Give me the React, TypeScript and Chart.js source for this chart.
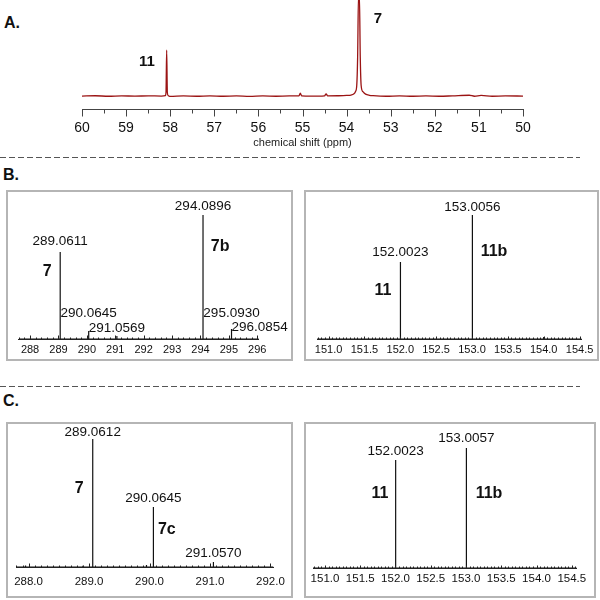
import React, { useEffect, useRef } from "react";
import { Chart, registerables } from "chart.js";

Chart.register(...registerables);

const FONT = "'Liberation Sans', Arial, Helvetica, sans-serif";

// ---------------- Panel A: NMR spectrum ----------------
const A_SHIFT = [
  50.0, 50.4, 50.7, 50.95, 51.1, 51.22, 51.6, 51.9, 52.2, 52.5, 52.8, 53.1, 53.4, 53.48,
  53.57, 53.63, 53.67, 53.69, 53.71, 53.73, 53.75, 53.77, 53.8, 53.84, 53.9, 54.0, 54.2,
  54.43, 54.465, 54.5, 54.8, 55.02, 55.05, 55.08, 55.3, 55.6, 55.9, 56.2, 56.5, 56.8,
  57.1, 57.4, 57.7, 58.0, 58.045, 58.065, 58.08, 58.095, 58.11, 58.2, 58.5, 58.8, 59.1,
  59.4, 59.7, 60.0,
];
const A_INTENSITY = [
  0.0, 0.001, -0.002, 0.006, -0.002, 0.008, 0.002, -0.002, 0.001, -0.002, 0.002, -0.002, 0.004, 0.008,
  0.02, 0.045, 0.11, 0.4, 1.05, 1.05, 0.4, 0.11, 0.045, 0.02, 0.01, 0.006, 0.003,
  0.002, 0.022, 0.002, -0.001, 0.002, 0.03, 0.002, 0.001, -0.002, 0.001, -0.003, 0.001, -0.002,
  0.002, -0.002, 0.001, -0.004, 0.004, 0.04, 0.479, 0.04, 0.004, 0.0, 0.002, -0.001, 0.002,
  -0.002, 0.003, 0.0,
];
const A_TICKS = [60, 59, 58, 57, 56, 55, 54, 53, 52, 51, 50];
const A_COMPOUNDS = ["11", "7"];
const A_COMPOUND_SHIFT = [58.53, 53.29];
const A_COMPOUND_Y = [0.354, 0.802];

// ---------------- Panel B, left ----------------
const B1_MZ = [289.0611, 290.0645, 291.0569, 294.0896, 295.093, 296.0854];
const B1_INT = [70.2, 6.5, 2.4, 100, 8.1, 2.8];
const B1_LABELS = ["289.0611", "290.0645", "291.0569", "294.0896", "295.0930", "296.0854"];
const B1_TICKS = [288, 289, 290, 291, 292, 293, 294, 295, 296];
const B1_COMPOUNDS = ["7", "7b"];
const B1_COMPOUND_MZ = [288.6, 294.69];
const B1_COMPOUND_INT = [54.0, 74.2];

// ---------------- Panel B, right ----------------
const B2_MZ = [152.0023, 153.0056, 154.0];
const B2_INT = [62.1, 100, 1.6];
const B2_LABELS = ["152.0023", "153.0056", ""];
const B2_TICKS = [151.0, 151.5, 152.0, 152.5, 153.0, 153.5, 154.0, 154.5];
const B2_COMPOUNDS = ["11", "11b"];
const B2_COMPOUND_MZ = [151.759, 153.307];
const B2_COMPOUND_INT = [38.7, 70.2];

// ---------------- Panel C, left ----------------
const C1_MZ = [287.95, 288.9, 289.0612, 289.95, 290.0645, 291.057];
const C1_INT = [1.2, 1.0, 100, 1.5, 46.9, 3.9];
const C1_LABELS = ["", "", "289.0612", "", "290.0645", "291.0570"];
const C1_TICKS = [288.0, 289.0, 290.0, 291.0, 292.0];
const C1_COMPOUNDS = ["7", "7c"];
const C1_COMPOUND_MZ = [288.837, 290.286];
const C1_COMPOUND_INT = [60.96, 28.9];

// ---------------- Panel C, right ----------------
const C2_MZ = [152.0023, 153.0057];
const C2_INT = [90, 100];
const C2_LABELS = ["152.0023", "153.0057"];
const C2_TICKS = [151.0, 151.5, 152.0, 152.5, 153.0, 153.5, 154.0, 154.5];
const C2_COMPOUNDS = ["11", "11b"];
const C2_COMPOUND_MZ = [151.78, 153.326];
const C2_COMPOUND_INT = [61.65, 61.65];

// ---------------- layout / style ----------------
type Pad = { left: number; right: number; top: number; bottom: number };
interface Spec {
  left: number; top: number; width: number; height: number;
  pad: Pad; axisHeight: number;
  xMin: number; xMax: number; yMin: number; yMax: number; reverse: boolean;
  ticks: number[]; tickDecimals: number; tickFontSize: number; tickPadding: number;
  minorStep: number; majorStep: number; majorLen: number; minorLen: number; tickDir: number;
  axisColor: string; title?: string; titleSize?: number;
  points: { x: number; y: number }[]; lineColor: string; lineWidth: number; smooth: boolean;
  peakLabels: { text: string; x: number; y: number; dy: number }[]; peakFontSize: number;
  compounds: { text: string; x: number; y: number }[]; compoundFontSize: number;
}

function stickSeries(mz: number[], inten: number[], lo: number, hi: number) {
  const pts = [{ x: lo, y: 0 }];
  mz.forEach((m, i) => {
    pts.push({ x: m, y: 0 }, { x: m, y: inten[i] }, { x: m, y: 0 });
  });
  pts.push({ x: hi, y: 0 });
  return pts;
}
function peakLabels(labels: string[], mz: number[], inten: number[], dys: number[]) {
  const out: { text: string; x: number; y: number; dy: number }[] = [];
  let k = 0;
  labels.forEach((t, i) => {
    if (t) { out.push({ text: t, x: mz[i], y: inten[i], dy: dys[k] }); k++; }
  });
  return out;
}
function compounds(texts: string[], xs: number[], ys: number[]) {
  return texts.map((t, i) => ({ text: t, x: xs[i], y: ys[i] }));
}

const SPEC_A: Spec = {
  left: 0, top: 0, width: 600, height: 160,
  pad: { left: 82, right: 77, top: 0, bottom: 6 }, axisHeight: 45,
  xMin: 50, xMax: 60, yMin: -0.135, yMax: 1, reverse: true,
  ticks: A_TICKS, tickDecimals: 0, tickFontSize: 14, tickPadding: 10.5,
  minorStep: 0.5, majorStep: 1, majorLen: 7, minorLen: 4, tickDir: 1,
  axisColor: "#444", title: "chemical shift (ppm)", titleSize: 11,
  points: A_SHIFT.map((x, i) => ({ x, y: A_INTENSITY[i] })),
  lineColor: "#9b1414", lineWidth: 1.3, smooth: true,
  peakLabels: [], peakFontSize: 13.5,
  compounds: compounds(A_COMPOUNDS, A_COMPOUND_SHIFT, A_COMPOUND_Y), compoundFontSize: 15,
};

const SPEC_B1: Spec = {
  left: 6, top: 190, width: 287, height: 170,
  pad: { left: 12.7, right: 34.3, top: 10, bottom: 1 }, axisHeight: 20,
  xMin: 287.6, xMax: 296.05, yMin: 0, yMax: 112.1, reverse: false,
  ticks: B1_TICKS, tickDecimals: 0, tickFontSize: 11, tickPadding: 4,
  minorStep: 0.2, majorStep: 1, majorLen: 4, minorLen: 2, tickDir: -1,
  axisColor: "#222",
  points: stickSeries(B1_MZ, B1_INT, 287.6, 296.05), lineColor: "#111", lineWidth: 1.2, smooth: false,
  peakLabels: peakLabels(B1_LABELS, B1_MZ, B1_INT, [-11, -18, -8, -9, -16, -8.5]), peakFontSize: 13.5,
  compounds: compounds(B1_COMPOUNDS, B1_COMPOUND_MZ, B1_COMPOUND_INT), compoundFontSize: 16,
};

const SPEC_B2: Spec = {
  left: 304, top: 190, width: 295, height: 170,
  pad: { left: 13.1, right: 17.3, top: 10, bottom: 1 }, axisHeight: 20,
  xMin: 150.84, xMax: 154.53, yMin: 0, yMax: 112.1, reverse: false,
  ticks: B2_TICKS, tickDecimals: 1, tickFontSize: 11, tickPadding: 4,
  minorStep: 0.05, majorStep: 0.5, majorLen: 3, minorLen: 2, tickDir: -1,
  axisColor: "#222",
  points: stickSeries(B2_MZ, B2_INT, 150.84, 154.53), lineColor: "#111", lineWidth: 1.2, smooth: false,
  peakLabels: peakLabels(B2_LABELS, B2_MZ, B2_INT, [-10, -8]), peakFontSize: 13.5,
  compounds: compounds(B2_COMPOUNDS, B2_COMPOUND_MZ, B2_COMPOUND_INT), compoundFontSize: 16,
};

const SPEC_C1: Spec = {
  left: 6, top: 422, width: 287, height: 176,
  pad: { left: 3.6, right: 19.5, top: 10, bottom: 7 }, axisHeight: 24,
  xMin: 287.8, xMax: 292.05, yMin: 0, yMax: 105.5, reverse: false,
  ticks: C1_TICKS, tickDecimals: 1, tickFontSize: 11.5, tickPadding: 8,
  minorStep: 0.1, majorStep: 1, majorLen: 4, minorLen: 2, tickDir: -1,
  axisColor: "#222",
  points: stickSeries(C1_MZ, C1_INT, 287.8, 292.05), lineColor: "#111", lineWidth: 1.2, smooth: false,
  peakLabels: peakLabels(C1_LABELS, C1_MZ, C1_INT, [-7, -9, -9]), peakFontSize: 13.5,
  compounds: compounds(C1_COMPOUNDS, C1_COMPOUND_MZ, C1_COMPOUND_INT), compoundFontSize: 16,
};

const SPEC_C2: Spec = {
  left: 304, top: 422, width: 292, height: 176,
  pad: { left: 9, right: 19.3, top: 10, bottom: 6 }, axisHeight: 24,
  xMin: 150.83, xMax: 154.57, yMin: 0, yMax: 113.3, reverse: false,
  ticks: C2_TICKS, tickDecimals: 1, tickFontSize: 11.5, tickPadding: 4,
  minorStep: 0.05, majorStep: 0.5, majorLen: 3, minorLen: 2, tickDir: -1,
  axisColor: "#222",
  points: stickSeries(C2_MZ, C2_INT, 150.83, 154.57), lineColor: "#111", lineWidth: 1.2, smooth: false,
  peakLabels: peakLabels(C2_LABELS, C2_MZ, C2_INT, [-9, -10]), peakFontSize: 13.5,
  compounds: compounds(C2_COMPOUNDS, C2_COMPOUND_MZ, C2_COMPOUND_INT), compoundFontSize: 16,
};

function buildConfig(spec: Spec): any {
  const tickPlugin = {
    id: "tickMarks",
    afterDraw(chart: any) {
      const sc = chart.scales.x;
      const ctx = chart.ctx;
      const y0 = Math.round(chart.chartArea.bottom) + 0.5;
      const lo = Math.min(spec.xMin, spec.xMax);
      const hi = Math.max(spec.xMin, spec.xMax);
      const n0 = Math.ceil(lo / spec.minorStep - 1e-6);
      const n1 = Math.floor(hi / spec.minorStep + 1e-6);
      ctx.save();
      ctx.strokeStyle = spec.axisColor;
      ctx.lineWidth = 1;
      ctx.beginPath();
      for (let n = n0; n <= n1; n++) {
        const v = n * spec.minorStep;
        const r = v / spec.majorStep;
        const major = Math.abs(r - Math.round(r)) < 1e-6;
        const len = major ? spec.majorLen : spec.minorLen;
        const px = Math.round(sc.getPixelForValue(v)) + 0.5;
        ctx.moveTo(px, y0);
        ctx.lineTo(px, y0 + spec.tickDir * len);
      }
      ctx.stroke();
      ctx.restore();
    },
  };
  const labelPlugin = {
    id: "peakText",
    afterDatasetsDraw(chart: any) {
      const xs = chart.scales.x;
      const ys = chart.scales.y;
      const ctx = chart.ctx;
      ctx.save();
      ctx.fillStyle = "#111";
      ctx.textAlign = "center";
      ctx.textBaseline = "middle";
      ctx.font = `${spec.peakFontSize}px ${FONT}`;
      spec.peakLabels.forEach((l) => {
        ctx.fillText(l.text, xs.getPixelForValue(l.x), ys.getPixelForValue(l.y) + l.dy);
      });
      ctx.font = `bold ${spec.compoundFontSize}px ${FONT}`;
      spec.compounds.forEach((c) => {
        ctx.fillText(c.text, xs.getPixelForValue(c.x), ys.getPixelForValue(c.y));
      });
      ctx.restore();
    },
  };
  return {
    type: "line",
    data: {
      datasets: [
        {
          data: spec.points,
          borderColor: spec.lineColor,
          borderWidth: spec.lineWidth,
          pointRadius: 0,
          tension: 0,
          cubicInterpolationMode: spec.smooth ? "monotone" : "default",
          fill: false,
        },
      ],
    },
    options: {
      responsive: false,
      animation: false,
      devicePixelRatio: 1,
      events: [],
      layout: { padding: spec.pad, autoPadding: false },
      plugins: { legend: { display: false }, tooltip: { enabled: false }, title: { display: false } },
      scales: {
        x: {
          type: "linear",
          position: "bottom",
          min: spec.xMin,
          max: spec.xMax,
          reverse: spec.reverse,
          grid: { display: false, drawTicks: false },
          border: { display: true, color: spec.axisColor, width: 1 },
          ticks: {
            autoSkip: false,
            maxRotation: 0,
            minRotation: 0,
            padding: spec.tickPadding,
            color: "#111",
            font: { family: FONT, size: spec.tickFontSize },
            callback: (v: any) => Number(v).toFixed(spec.tickDecimals),
          },
          afterBuildTicks: (s: any) => {
            s.ticks = spec.ticks.map((v) => ({ value: v }));
          },
          afterFit: (s: any) => {
            s.height = spec.axisHeight;
          },
          title: spec.title
            ? {
                display: true,
                text: spec.title,
                color: "#222",
                font: { family: FONT, size: spec.titleSize },
                padding: { top: 0, bottom: 4 },
              }
            : { display: false },
        },
        y: { type: "linear", display: false, min: spec.yMin, max: spec.yMax },
      },
    },
    plugins: [tickPlugin, labelPlugin],
  };
}

function SpecChart({ spec }: { spec: Spec }) {
  const ref = useRef<HTMLCanvasElement>(null);
  useEffect(() => {
    const canvas = ref.current;
    if (!canvas) return;
    const chart = new Chart(canvas, buildConfig(spec));
    return () => chart.destroy();
  }, [spec]);
  return (
    <canvas
      ref={ref}
      width={spec.width}
      height={spec.height}
      style={{ position: "absolute", left: spec.left, top: spec.top, width: spec.width, height: spec.height }}
    />
  );
}

const letterStyle = (left: number, top: number): React.CSSProperties => ({
  position: "absolute",
  left,
  top,
  fontFamily: FONT,
  fontWeight: "bold",
  fontSize: 16,
  lineHeight: "16px",
  color: "#111",
});

const boxStyle = (left: number, top: number, width: number, height: number): React.CSSProperties => ({
  position: "absolute",
  left,
  top,
  width,
  height,
  boxSizing: "border-box",
  border: "2px solid #b5b5b5",
});

export default function App() {
  return (
    <div
      style={{
        position: "fixed",
        left: 0,
        top: 0,
        width: 600,
        height: 600,
        background: "#fff",
        overflow: "hidden",
      }}
    >
      <svg width={600} height={600} style={{ position: "absolute", left: 0, top: 0 }}>
        <line x1={0} y1={157.5} x2={580} y2={157.5} stroke="#555" strokeWidth={1.2} strokeDasharray="6 3" />
        <line x1={0} y1={386.5} x2={580} y2={386.5} stroke="#555" strokeWidth={1.2} strokeDasharray="6 3" />
      </svg>
      <div style={letterStyle(4, 15)}>A.</div>
      <div style={letterStyle(3, 167)}>B.</div>
      <div style={letterStyle(3, 393)}>C.</div>
      <div style={boxStyle(6, 190, 287, 171)} />
      <div style={boxStyle(304, 190, 295, 171)} />
      <div style={boxStyle(6, 422, 287, 176)} />
      <div style={boxStyle(304, 422, 292, 176)} />
      <SpecChart spec={SPEC_A} />
      <SpecChart spec={SPEC_B1} />
      <SpecChart spec={SPEC_B2} />
      <SpecChart spec={SPEC_C1} />
      <SpecChart spec={SPEC_C2} />
    </div>
  );
}
